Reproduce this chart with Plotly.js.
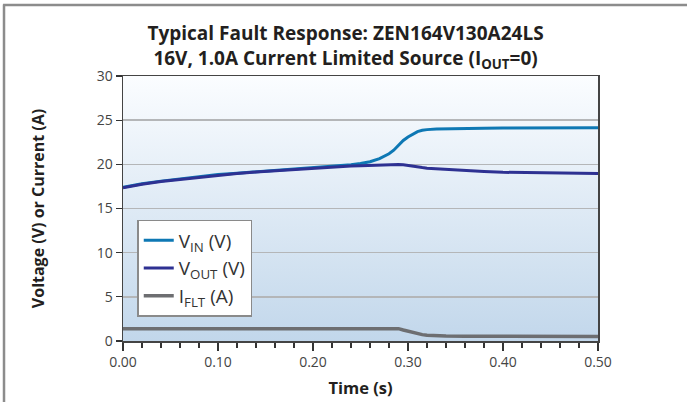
<!DOCTYPE html>
<html>
<head>
<meta charset="utf-8">
<script src="https://cdn.plot.ly/plotly-3.0.1.min.js"></script>
<style>html,body{margin:0;padding:0;background:#fff;}#chart{width:687px;height:402px;}</style>
</head>
<body>
<div id="chart"></div>
<script>
// Time (s)
const time = [0,0.02,0.04,0.06,0.08,0.10,0.12,0.14,0.16,0.18,0.20,0.22,0.24,0.25,0.26,0.27,0.28,0.285,0.29,0.295,0.30,0.305,0.31,0.315,0.32,0.33,0.34,0.36,0.38,0.40,0.44,0.48,0.50];
// V_IN (V)
const vin = [17.4,17.8,18.1,18.35,18.6,18.85,19.0,19.15,19.3,19.45,19.6,19.75,19.95,20.1,20.3,20.65,21.2,21.6,22.2,22.7,23.1,23.45,23.7,23.85,23.93,24.0,24.03,24.06,24.08,24.1,24.12,24.13,24.13];
// V_OUT (V)
const vout = [17.35,17.75,18.05,18.3,18.55,18.8,18.97,19.12,19.27,19.42,19.55,19.68,19.8,19.85,19.9,19.93,19.96,19.97,19.97,19.95,19.85,19.77,19.7,19.63,19.57,19.5,19.42,19.3,19.2,19.1,19.02,18.97,18.95];
// I_FLT (A)
const iflt = [1.4,1.4,1.4,1.4,1.4,1.4,1.4,1.4,1.4,1.4,1.4,1.4,1.4,1.4,1.4,1.4,1.4,1.4,1.4,1.25,1.1,0.95,0.82,0.72,0.65,0.6,0.57,0.55,0.53,0.52,0.51,0.5,0.5];

const seriesNames = ['V<sub>IN</sub> (V)','V<sub>OUT</sub> (V)','I<sub>FLT</sub> (A)'];
const xTickVals = [0,0.1,0.2,0.3,0.4,0.5];
const xTickText = ['0.00','0.10','0.20','0.30','0.40','0.50'];
const yTickVals = [0,5,10,15,20,25,30];

const FONT = '"Open Sans", "DejaVu Sans", sans-serif';

const traces = [
  {x: time, y: vin, name: seriesNames[0], mode: 'lines', line: {color: '#0e78b4', width: 3}},
  {x: time, y: vout, name: seriesNames[1], mode: 'lines', line: {color: '#2e3192', width: 3}},
  {x: time, y: iflt, name: seriesNames[2], mode: 'lines', line: {color: '#6d6e71', width: 3.5}}
];

const gradSvg = '<svg xmlns="http://www.w3.org/2000/svg" width="100" height="100" preserveAspectRatio="none"><defs><linearGradient id="g" x1="0" y1="0" x2="0" y2="1"><stop offset="0" stop-color="#fbfdff"/><stop offset="1" stop-color="#c2d7eb"/></linearGradient></defs><rect width="100" height="100" fill="url(#g)"/></svg>';
const gradUri = 'data:image/svg+xml;charset=utf-8,' + encodeURIComponent(gradSvg);

const layout = {
  width: 687, height: 402,
  margin: {l: 123, r: 89, t: 76, b: 61},
  paper_bgcolor: '#ffffff',
  plot_bgcolor: 'rgba(0,0,0,0)',
  font: {family: FONT, color: '#333333'},
  title: {
    text: '<b>Typical Fault Response: ZEN164V130A24LS</b><br><b>16V, 1.0A Current Limited Source (I<sub>OUT</sub>=0)</b>',
    font: {family: FONT, size: 19, color: '#231f20'},
    x: 0.503, xref: 'container', xanchor: 'center',
    y: 0.9, yref: 'container', yanchor: 'top'
  },
  xaxis: {
    range: [0, 0.5],
    tickvals: xTickVals, ticktext: xTickText,
    ticks: 'outside', ticklen: 8, tickwidth: 1.5, tickcolor: '#333',
    minor: {dtick: 0.02, tick0: 0, ticks: 'outside', ticklen: 5, tickwidth: 1.2, tickcolor: '#333', showgrid: false},
    showgrid: false, zeroline: false,
    showline: true, linecolor: '#444', linewidth: 1.5, mirror: true,
    tickfont: {family: FONT, size: 14, color: '#444'},
    title: {text: '<b>Time (s)</b>', font: {family: FONT, size: 16.5, color: '#231f20'}, standoff: 12}
  },
  yaxis: {
    range: [0, 30],
    tickvals: yTickVals,
    ticks: 'outside', ticklen: 6, tickwidth: 1.2, tickcolor: '#333',
    showgrid: true, gridcolor: '#b4b6b8', gridwidth: 1.5,
    zeroline: false,
    showline: true, linecolor: '#444', linewidth: 1.5, mirror: true,
    tickfont: {family: FONT, size: 14, color: '#444'},
    title: {text: '<b>Voltage (V) or Current (A)</b>', font: {family: FONT, size: 16, color: '#231f20'}, standoff: 48}
  },
  legend: {
    x: 0.03, y: 0.457, xanchor: 'left', yanchor: 'top',
    bgcolor: '#ffffff', bordercolor: '#8a8a8a', borderwidth: 1.5,
    font: {family: FONT, size: 19, color: '#333'},
    tracegroupgap: 0,
    entrywidth: 145, entrywidthmode: 'pixels'
  },
  images: [{
    source: gradUri, xref: 'paper', yref: 'paper',
    x: 0, y: 1, sizex: 1, sizey: 1, xanchor: 'left', yanchor: 'top',
    sizing: 'stretch', layer: 'below'
  }],
  shapes: [
    {type: 'line', xref: 'paper', yref: 'paper', x0: -0.2505, x1: -0.2505, y0: 1.27, y1: -0.3, line: {color: '#8c8c8c', width: 2.5}},
    {type: 'line', xref: 'paper', yref: 'paper', x0: -0.2525, x1: 1.2, y0: 1.268, y1: 1.268, line: {color: '#8c8c8c', width: 2.5}}
  ],
  showlegend: true
};

Plotly.newPlot('chart', traces, layout, {displayModeBar: false, staticPlot: true});
</script>
</body>
</html>
